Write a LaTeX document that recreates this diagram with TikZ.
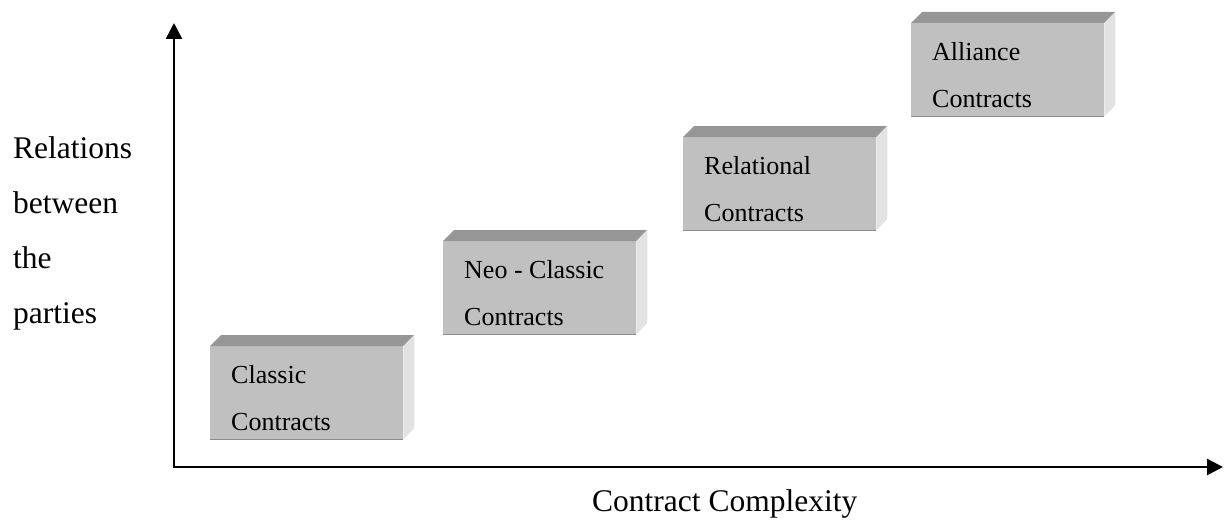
\documentclass[tikz,border=0pt]{standalone}
\usepackage{fontspec}
\setmainfont{Liberation Serif}
\usetikzlibrary{arrows.meta}

\definecolor{frontgray}{HTML}{C0C0C0}
\definecolor{topgray}{HTML}{969696}
\definecolor{sidegray}{HTML}{E2E2E2}
\definecolor{edgegray}{HTML}{8C8C8C}

\begin{document}
\begin{tikzpicture}[
    x=1pt, y=-1pt,
    front/.style={rectangle, fill=frontgray, minimum width=193pt, minimum height=93pt, inner sep=0pt, anchor=north west},
    lbl/.style={anchor=base west, inner sep=0pt, font=\fontsize{26}{30}\selectfont},
    axislbl/.style={anchor=base west, inner sep=0pt, font=\fontsize{31.5}{36}\selectfont},
    axis/.style={{Triangle[length=16pt, width=16pt]}-{Triangle[length=16pt, width=16pt]}, line width=2.5pt}
]
\useasboundingbox (0,0) rectangle (1224,527);

% axes
\coordinate (ytip) at (174,23);
\coordinate (origin) at (174,467);
\coordinate (xtip) at (1223,467);
\draw[axis] (ytip) -- (origin) -- (xtip);

% axis labels
\node[axislbl] (rel1) at (13,158) {Relations};
\node[axislbl] (rel2) at (13,213) {between};
\node[axislbl] (rel3) at (13,268) {the};
\node[axislbl] (rel4) at (13,323) {parties};
\node[axislbl] (cplx) at (592,511) {Contract Complexity};

% contract boxes
\foreach \x/\y/\n/\a/\b in {210/346/classic/Classic/Contracts,
    443/241/neo/Neo - Classic/Contracts,
    683/137/relational/Relational/Contracts,
    911/23/alliance/Alliance/Contracts}{
  \node[front] (\n) at (\x,\y) {};
  \fill[topgray] (\n.north west) -- ++(11,-11) -- ++(193,0) -- (\n.north east) -- cycle;
  \fill[sidegray] (\n.north east) -- ++(11,-11) -- ++(0,93) -- (\n.south east) -- cycle;
  \draw[edgegray, line width=1.5pt] (\n.south west) -- (\n.south east);
  \node[lbl] (\n-a) at ([shift={(21,37)}]\n.north west) {\a};
  \node[lbl] (\n-b) at ([shift={(21,84)}]\n.north west) {\b};
}
\end{tikzpicture}
\end{document}
